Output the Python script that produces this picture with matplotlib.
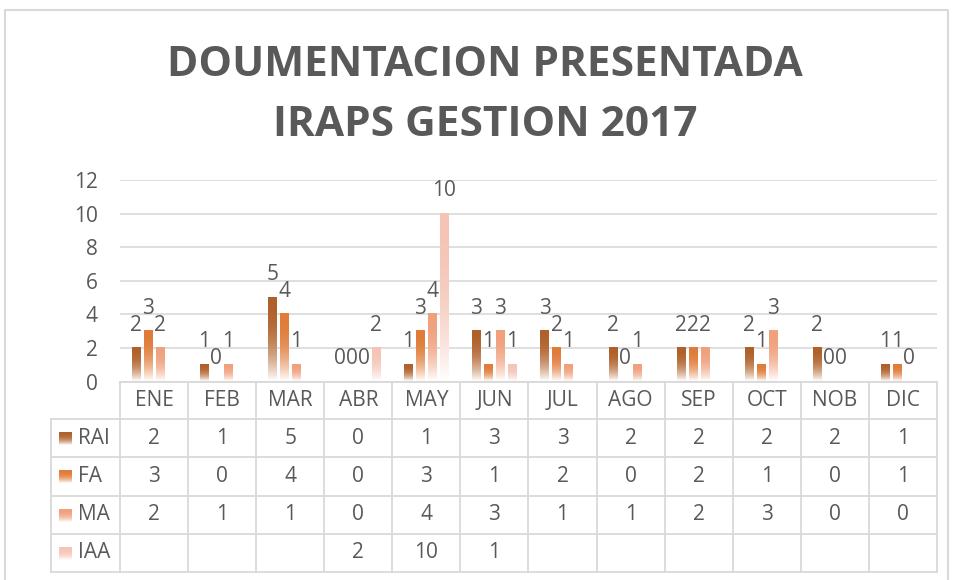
import numpy as np
import matplotlib
matplotlib.use('Agg')
import matplotlib.pyplot as plt
from matplotlib.colors import to_rgb

# ---- data ----
months = ['ENE', 'FEB', 'MAR', 'ABR', 'MAY', 'JUN', 'JUL', 'AGO', 'SEP', 'OCT', 'NOB', 'DIC']
series_names = ['RAI', 'FA', 'MA', 'IAA']
rai = [2, 1, 5, 0, 1, 3, 3, 2, 2, 2, 2, 1]
fa = [3, 0, 4, 0, 3, 1, 2, 0, 2, 1, 0, 1]
ma = [2, 1, 1, 0, 4, 3, 1, 1, 2, 3, 0, 0]
iaa = [None, None, None, 2, 10, 1, None, None, None, None, None, None]
yticks = [0, 2, 4, 6, 8, 10, 12]
title_lines = ['DOUMENTACION PRESENTADA', 'IRAPS GESTION 2017']

series = [rai, fa, ma, iaa]
colors = ['#B0612B', '#E07B39', '#F0A07D', '#F5C4B6']
TXT = '#595959'
GRID = '#d9d9d9'
FONT = 'Open Sans'
FS = 15

W, H = 954, 580
fig = plt.figure(figsize=(W / 100, H / 100), dpi=100)
fig.patch.set_facecolor('white')


def grad(color, n=128):
    c = np.array(to_rgb(color))
    t = np.linspace(0, 1, n)[:, None]
    mix = t ** 2.4
    arr = c[None, :] * (1 - mix) + np.ones(3)[None, :] * mix
    return arr[:, None, :]


# ---- plot area ----
left_px, right_px = 120, 937
y0_px, y12_px = 381.5, 180
ax = fig.add_axes([left_px / W, 1 - y0_px / H, (right_px - left_px) / W, (y0_px - y12_px) / H])
ax.set_facecolor('none')

step = 0.176
width = 0.12
for si, vals in enumerate(series):
    off = (si - 1.5) * step
    g = grad(colors[si])
    for mi, v in enumerate(vals):
        if v is None:
            continue
        xc = mi + off
        if v > 0:
            ax.imshow(g, extent=[xc - width / 2, xc + width / 2, 0, v], aspect='auto',
                      origin='upper', interpolation='bilinear', zorder=3)
        ax.annotate(str(v), (xc, v), xytext=(0, 12.5), textcoords='offset points',
                    ha='center', va='baseline', fontsize=FS, color=TXT, family=FONT,
                    zorder=5, annotation_clip=False)

ax.set_xlim(-0.5, 11.5)
ax.set_ylim(0, 12)
ax.set_yticks(yticks)
ax.set_yticklabels([str(t) for t in yticks], fontsize=FS, color=TXT, family=FONT)
ax.set_xticks([])
ax.tick_params(axis='y', length=0, pad=16)
ax.yaxis.grid(True, color=GRID, lw=1.2)
ax.set_axisbelow(True)
for s in ax.spines.values():
    s.set_visible(False)

# ---- overlay in pixel coordinates: frame, title, data table ----
ov = fig.add_axes([0, 0, 1, 1], zorder=-1)
ov.set_xlim(0, W)
ov.set_ylim(H, 0)
ov.axis('off')
ov.patch.set_visible(False)

# frame
ov.plot([5.5, 5.5, 948.5, 948.5], [582, 9.5, 9.5, 582], color=GRID, lw=1.5)

# title
ov.text(485, 65, title_lines[0], ha='center', va='center', fontsize=30.5,
        fontweight='bold', color=TXT, family=FONT)
ov.text(485, 125, title_lines[1], ha='center', va='center', fontsize=30.5,
        fontweight='bold', color=TXT, family=FONT)

ov2 = fig.add_axes([0, 0, 1, 1], zorder=10)
ov2.set_xlim(0, W)
ov2.set_ylim(H, 0)
ov2.axis('off')
ov2.patch.set_visible(False)

col_w = (right_px - left_px) / 12
row_lines = [382, 419, 457, 496, 534, 572]
lab_left = 51
lw = 1.3
ov2.plot([left_px, right_px], [row_lines[0]] * 2, color=GRID, lw=lw)
for yl in row_lines[1:]:
    ov2.plot([lab_left, right_px], [yl, yl], color=GRID, lw=lw)
ov2.plot([lab_left, lab_left], [row_lines[1], row_lines[-1]], color=GRID, lw=lw)
for k in range(13):
    xl = left_px + k * col_w
    ov2.plot([xl, xl], [row_lines[0], row_lines[-1]], color=GRID, lw=lw)

for mi, m in enumerate(months):
    xc = left_px + (mi + 0.5) * col_w
    ov2.text(xc, (row_lines[0] + row_lines[1]) / 2, m, ha='center', va='center',
             fontsize=FS, color=TXT, family=FONT)

for si, (name, vals) in enumerate(zip(series_names, series)):
    yc = (row_lines[si + 1] + row_lines[si + 2]) / 2
    ov2.imshow(grad(colors[si]), extent=[59, 72, yc + 7, yc - 6], aspect='auto',
               origin='upper', interpolation='bilinear')
    ov2.text(78, yc, name, ha='left', va='center', fontsize=FS, color=TXT, family=FONT)
    for mi, v in enumerate(vals):
        if v is None:
            continue
        xc = left_px + (mi + 0.5) * col_w
        ov2.text(xc, yc, str(v), ha='center', va='center', fontsize=FS, color=TXT, family=FONT)

ov2.set_xlim(0, W)
ov2.set_ylim(H, 0)

fig.savefig('out.png', dpi=100, facecolor='white')
